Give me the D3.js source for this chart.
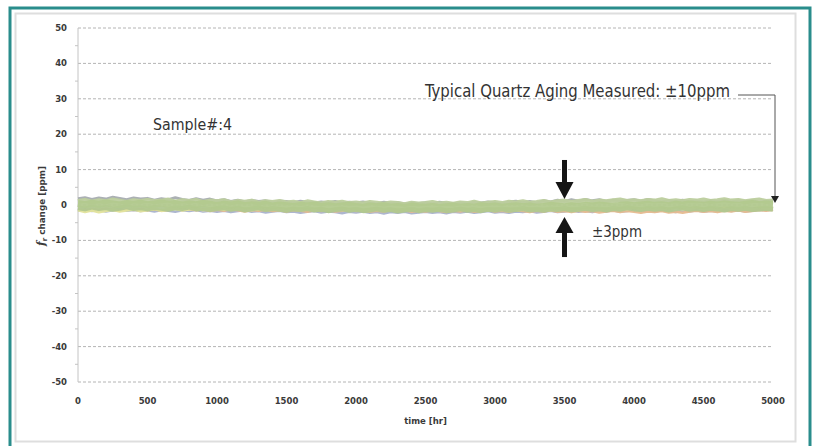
<!DOCTYPE html>
<html>
<head>
<meta charset="utf-8">
<script src="https://cdn.jsdelivr.net/npm/d3@7/dist/d3.min.js"></script>
<style>
  html, body { margin: 0; padding: 0; background: #fff; }
  svg { display: block; }
  .tick-label { font-family: "DejaVu Sans", sans-serif; font-weight: bold; fill: #3a3a3a; }
  .note { font-family: "Liberation Sans Narrow", "DejaVu Sans Condensed", "Arial Narrow", sans-serif; fill: #333; }
</style>
</head>
<body>
<svg id="chart" width="814" height="446"></svg>
<script>
// Frequency aging log: f_r change in ppm sampled every 50 hours over 5000 h.
const sampleStep = 50;
const timeHours = d3.range(0, 5000 + sampleStep, sampleStep);

const yTicks = [50, 40, 30, 20, 10, 0, -10, -20, -30, -40, -50];
const xTicks = [0, 500, 1000, 1500, 2000, 2500, 3000, 3500, 4000, 4500, 5000];

const unitBlue = [
-1.6,-1.3,-1.7,-1.4,-1.8,-1.5,-1.2,-1.6,-1.4,-1.7,
-1.5,-1.8,-1.4,-1.6,-1.9,-1.5,-1.7,-1.4,-1.8,-1.6,
-1.9,-1.6,-2.0,-1.7,-1.5,-1.9,-1.7,-2.1,-1.8,-1.6,
-2.0,-1.8,-2.2,-1.9,-1.7,-2.1,-1.8,-2.0,-2.3,-1.9,
-2.1,-1.8,-2.2,-2.0,-2.4,-2.0,-2.2,-1.9,-2.3,-2.1,
-1.9,-2.2,-2.0,-2.3,-1.9,-2.1,-1.8,-2.2,-2.0,-1.7,
-2.1,-1.9,-2.2,-1.8,-2.0,-1.7,-2.1,-1.9,-1.6,-2.0,
-1.8,-1.5,-1.9,-1.7,-2.0,-1.6,-1.8,-1.5,-1.9,-1.7,
-1.4,-1.8,-1.6,-1.9,-1.5,-1.7,-2.0,-1.6,-1.8,-1.5,
-1.9,-1.6,-1.8,-1.4,-1.7,-1.5,-1.8,-1.6,-1.3,-1.5,
-1.2];

const unitOrange = [
-1.2,-1.5,-1.1,-1.4,-1.0,-1.3,-1.6,-1.2,-1.4,-1.1,
-1.5,-1.2,-1.6,-1.3,-1.0,-1.4,-1.1,-1.5,-1.2,-1.7,
-1.3,-1.6,-1.2,-1.5,-1.8,-1.4,-1.6,-1.3,-1.7,-1.5,
-1.8,-1.4,-1.6,-1.9,-1.5,-1.7,-1.4,-1.8,-1.6,-1.3,
-1.7,-1.5,-1.9,-1.6,-1.8,-1.4,-1.7,-1.5,-1.9,-1.6,
-1.8,-1.5,-1.7,-2.0,-1.6,-1.8,-1.5,-1.9,-1.7,-1.4,
-1.8,-1.6,-1.9,-1.5,-1.7,-2.0,-1.6,-1.8,-1.5,-1.9,
-1.7,-2.0,-1.6,-1.9,-1.7,-2.1,-1.8,-1.6,-2.0,-1.7,
-1.9,-2.2,-1.8,-2.0,-1.7,-2.1,-1.9,-2.2,-1.8,-1.6,
-1.9,-1.7,-2.0,-1.6,-1.8,-1.5,-1.9,-1.7,-1.4,-1.6,
-1.3];

const unitYellow = [
-1.4,-1.9,-1.5,-2.0,-1.6,-1.3,-1.8,-1.5,-1.2,-1.7,
-1.4,-1.1,-1.6,-1.3,-1.0,-1.5,-1.2,-0.9,-1.4,-1.1,
-0.8,-1.3,-1.0,-1.2,-0.9,-1.4,-1.1,-0.8,-1.3,-1.0,
-1.2,-0.9,-1.4,-1.1,-1.3,-1.0,-1.5,-1.2,-0.9,-1.3,
-1.1,-1.4,-1.2,-1.0,-1.5,-1.3,-1.1,-1.4,-1.2,-1.6,
-1.3,-1.1,-1.5,-1.2,-1.4,-1.0,-1.3,-1.5,-1.2,-1.4,
-1.1,-1.3,-1.0,-1.4,-1.2,-0.9,-1.3,-1.1,-1.4,-1.0,
-1.2,-0.9,-1.3,-1.1,-0.8,-1.2,-1.0,-1.3,-0.9,-1.1,
-0.8,-1.2,-1.0,-1.3,-0.9,-1.1,-0.8,-1.2,-1.0,-0.7,
-1.1,-0.9,-1.2,-0.8,-1.0,-1.3,-0.9,-1.1,-0.8,-1.0,
-0.9];

const unitGrey = [
1.8,2.1,1.6,2.0,1.7,2.2,1.9,1.5,2.0,1.7,
1.9,1.4,1.8,1.5,2.1,1.6,1.3,1.8,1.4,1.7,
1.2,1.5,1.0,1.4,0.9,1.3,1.0,1.2,0.8,1.1,
1.0,0.7,1.1,0.8,0.6,0.9,0.7,1.0,0.5,0.8,
0.6,0.9,0.5,0.4,0.8,0.5,0.7,0.3,0.6,0.4,
0.7,0.4,0.8,0.5,0.3,0.7,0.4,0.8,0.6,0.9,
0.7,0.4,0.9,1.1,0.7,1.0,0.6,1.2,0.9,1.4,
1.0,1.5,1.1,1.6,1.2,1.5,1.0,1.4,1.1,1.3,
1.5,1.1,1.6,1.2,0.9,1.3,1.0,1.4,0.9,1.2,
0.8,1.3,1.0,1.4,0.9,1.2,1.0,1.3,0.8,1.1,
0.9];

const unitGreenLow = [
-0.8,-1.1,-0.6,-1.0,-0.7,-1.2,-0.9,-0.5,-1.0,-0.8,
-1.1,-0.7,-0.9,-1.2,-0.8,-1.0,-0.6,-1.1,-0.9,-1.3,
-1.0,-0.8,-1.2,-0.9,-1.4,-1.1,-0.8,-1.3,-1.0,-1.2,
-1.5,-1.1,-1.3,-1.0,-1.4,-1.2,-1.6,-1.3,-1.1,-1.5,
-1.2,-1.6,-1.4,-1.1,-1.5,-1.3,-1.7,-1.4,-1.2,-1.6,
-1.3,-1.5,-1.2,-1.6,-1.4,-1.1,-1.5,-1.3,-1.6,-1.2,
-1.4,-1.1,-1.5,-1.3,-1.0,-1.4,-1.2,-1.5,-1.1,-1.3,
-1.0,-1.4,-1.2,-0.9,-1.3,-1.1,-1.4,-1.0,-1.2,-0.8,
-1.1,-1.3,-0.9,-1.2,-1.0,-1.4,-1.1,-0.8,-1.2,-1.0,
-1.3,-0.9,-1.1,-1.4,-1.0,-1.2,-0.9,-1.3,-1.1,-0.9,
-1.2];

const unitGreenHigh = [
1.0,1.3,0.8,1.2,0.9,1.4,1.1,0.7,1.2,1.0,
1.3,0.9,1.1,1.4,0.8,1.2,1.0,1.3,0.7,1.1,
0.9,1.2,0.6,1.0,0.8,1.1,0.5,0.9,0.7,1.0,
0.6,0.8,0.4,0.9,0.6,0.3,0.7,0.5,0.8,0.4,
0.6,0.3,0.7,0.5,0.2,0.6,0.4,0.1,0.5,0.3,
0.4,0.7,0.3,0.5,0.2,0.6,0.4,0.8,0.3,0.5,
0.7,0.4,0.8,0.6,0.9,0.5,0.7,1.0,0.6,0.9,
1.1,0.7,1.0,1.3,0.8,1.1,0.9,1.2,1.4,1.0,
1.2,0.9,1.3,1.1,1.5,1.0,1.2,0.9,1.3,1.1,
1.4,1.0,1.2,1.5,1.1,1.3,0.9,1.2,1.4,1.0,
1.1];

const unitGreenMid = [
0.4,0.1,0.5,0.2,0.6,0.3,0.0,0.4,0.2,0.5,
0.1,0.3,0.6,0.2,0.4,0.0,0.3,0.1,0.4,0.2,
-0.1,0.2,0.0,0.3,-0.2,0.1,-0.1,0.2,-0.3,0.0,
-0.2,-0.4,-0.1,-0.3,0.0,-0.4,-0.2,-0.5,-0.3,-0.1,
-0.4,-0.6,-0.3,-0.5,-0.2,-0.6,-0.4,-0.7,-0.3,-0.5,
-0.6,-0.4,-0.7,-0.5,-0.3,-0.6,-0.4,-0.6,-0.2,-0.5,
-0.3,-0.6,-0.4,-0.2,-0.5,-0.3,-0.6,-0.4,-0.1,-0.3,
-0.5,-0.2,-0.4,-0.1,-0.3,0.0,-0.2,-0.4,-0.1,0.1,
-0.2,0.0,0.2,-0.1,0.1,-0.2,0.2,0.0,0.3,0.1,
-0.1,0.2,0.0,0.3,0.1,-0.1,0.2,0.4,0.1,0.3,
0.2];

// Drawn back to front: the green units sit on top of the others.
const series = [
  { name: "unit A", values: unitBlue,      color: "#a9b2cc", width: 2.6 },
  { name: "unit B", values: unitOrange,    color: "#e6bb8f", width: 2.6 },
  { name: "unit C", values: unitYellow,    color: "#e2e39c", width: 3 },
  { name: "unit D", values: unitGrey,      color: "#a7acb0", width: 2.8 },
  { name: "unit E", values: unitGreenLow,  color: "#b0c78f", width: 5 },
  { name: "unit F", values: unitGreenHigh, color: "#bcce9d", width: 5 },
  { name: "unit G", values: unitGreenMid,  color: "#b2c98e", width: 7 }
];

const svg = d3.select("#chart");

// Outer teal frame and inner panel
svg.append("rect").attr("x", 10).attr("y", 8).attr("width", 800).attr("height", 460)
  .attr("fill", "#fff").attr("stroke", "#2a8d8c").attr("stroke-width", 3);
svg.append("rect").attr("x", 15.5).attr("y", 13.5).attr("width", 780).attr("height", 428)
  .attr("fill", "#fff").attr("stroke", "#dedede").attr("stroke-width", 2);

const x = d3.scaleLinear().domain([0, 5000]).range([78, 773]);
const y = d3.scaleLinear().domain([-50, 50]).range([382, 28]);

// Horizontal dashed gridlines
svg.append("g").selectAll("line").data(yTicks).join("line")
  .attr("x1", x(0)).attr("x2", x(5000))
  .attr("y1", d => y(d)).attr("y2", d => y(d))
  .attr("stroke", "#b4b4b4").attr("stroke-width", 1)
  .attr("stroke-dasharray", "3,2");

// Y axis line with minor ticks
svg.append("line").attr("x1", x(0)).attr("x2", x(0)).attr("y1", y(50)).attr("y2", y(-50))
  .attr("stroke", "#c4c4c4").attr("stroke-width", 1);
const minorTicks = d3.range(-45, 50, 10);
svg.append("g").selectAll("line").data(minorTicks).join("line")
  .attr("x1", x(0) - 3).attr("x2", x(0))
  .attr("y1", d => y(d)).attr("y2", d => y(d))
  .attr("stroke", "#c4c4c4").attr("stroke-width", 1);

// Tick labels
svg.append("g").selectAll("text").data(yTicks).join("text")
  .attr("class", "tick-label")
  .attr("x", 67).attr("y", d => y(d) + 3)
  .attr("text-anchor", "end").attr("font-size", 8.5)
  .text(d => d);

svg.append("g").selectAll("text").data(xTicks).join("text")
  .attr("class", "tick-label")
  .attr("x", d => x(d)).attr("y", 403.5)
  .attr("text-anchor", "middle").attr("font-size", 8.5)
  .text(d => d);

// Axis titles
svg.append("text").attr("class", "tick-label")
  .attr("x", (x(0) + x(5000)) / 2).attr("y", 424)
  .attr("text-anchor", "middle").attr("font-size", 8.5)
  .text("time [hr]");

const yTitle = svg.append("text").attr("class", "tick-label")
  .attr("transform", `translate(45,${y(0) + 1}) rotate(-90)`)
  .attr("text-anchor", "middle").attr("font-size", 9.5);
yTitle.append("tspan").attr("font-style", "italic").attr("font-family", "DejaVu Serif, serif").attr("font-size", 11).text("f");
yTitle.append("tspan").attr("font-size", 7).attr("dy", 2).text("r");
yTitle.append("tspan").attr("dy", -2).attr("textLength", 72).attr("lengthAdjust", "spacingAndGlyphs").text(" change [ppm]");

// Measured traces
const line = d3.line()
  .x((d, i) => x(timeHours[i]))
  .y(d => y(d));

svg.append("g").selectAll("path").data(series).join("path")
  .attr("d", d => line(d.values))
  .attr("fill", "none")
  .attr("stroke", d => d.color)
  .attr("stroke-width", d => d.width)
  .attr("stroke-linejoin", "round")
  .attr("opacity", 0.95);

// Annotations
svg.append("text").attr("class", "note")
  .attr("x", 153).attr("y", 130).attr("font-size", 16)
  .attr("textLength", 79).attr("lengthAdjust", "spacingAndGlyphs")
  .text("Sample#:4");

svg.append("text").attr("class", "note")
  .attr("x", 425).attr("y", 97).attr("font-size", 17)
  .attr("textLength", 305).attr("lengthAdjust", "spacingAndGlyphs")
  .text("Typical Quartz Aging Measured: ±10ppm");

// Leader from the aging note down to the end of the traces
const leadX = x(5000) + 2;
svg.append("path")
  .attr("d", `M738,95 H${leadX} V${y(0) - 9}`)
  .attr("fill", "none").attr("stroke", "#555").attr("stroke-width", 1);
svg.append("path")
  .attr("d", `M${leadX - 4},${y(0) - 9} L${leadX + 4},${y(0) - 9} L${leadX},${y(0) - 2} Z`)
  .attr("fill", "#222");

// ±3 ppm band arrows at t = 3500 h
const ax = x(3500);
const topTip = y(1.7), botTip = y(-3.4);
svg.append("rect").attr("x", ax - 2.5).attr("y", topTip - 39).attr("width", 5).attr("height", 25).attr("fill", "#151515");
svg.append("path").attr("d", `M${ax - 9},${topTip - 17} L${ax + 9},${topTip - 17} L${ax},${topTip} Z`).attr("fill", "#151515");
svg.append("path").attr("d", `M${ax - 9},${botTip + 16} L${ax + 9},${botTip + 16} L${ax},${botTip} Z`).attr("fill", "#151515");
svg.append("rect").attr("x", ax - 2.5).attr("y", botTip + 14).attr("width", 5).attr("height", 26).attr("fill", "#151515");

svg.append("text").attr("class", "note")
  .attr("x", 592).attr("y", 237).attr("font-size", 16)
  .attr("textLength", 50).attr("lengthAdjust", "spacingAndGlyphs")
  .text("±3ppm");
</script>
</body>
</html>
